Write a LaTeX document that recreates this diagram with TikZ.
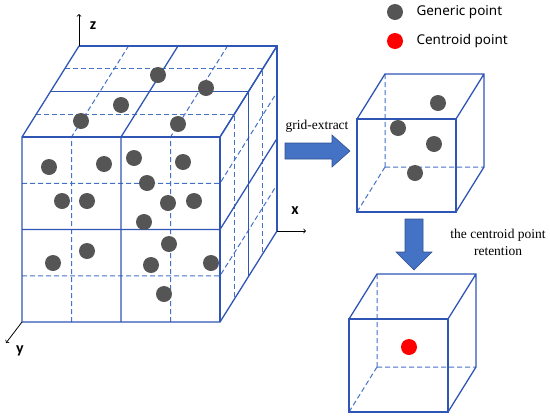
\documentclass[tikz,border=0pt]{standalone}
\usepackage{fontspec}
\setmainfont{Liberation Serif}
\setsansfont{Noto Sans}
\newfontfamily\axisfont{Carlito}
\definecolor{edgeblue}{RGB}{47,85,181}
\definecolor{dashblue}{RGB}{68,114,196}
\definecolor{arrowblue}{RGB}{68,114,196}
\definecolor{arrowrim}{RGB}{47,82,143}
\definecolor{ptgray}{RGB}{85,85,85}
\tikzset{cubeedge/.style={edgeblue,line width=1.3pt},
 cubedash/.style={dashblue,line width=1pt,dash pattern=on 5pt off 3pt},
 ptdot/.style={fill=ptgray}, cdot/.style={fill=red},
 bigarrow/.style={fill=arrowblue,draw=arrowrim,line width=0.6pt},
 axisarrow/.style={black,line width=0.8pt,->},
 axislabel/.style={font=\axisfont\bfseries\fontsize{16}{16}\selectfont},
 steplabel/.style={font=\fontsize{13.5}{17}\selectfont,align=center},
 legendlabel/.style={font=\sffamily\fontsize{13.5}{16}\selectfont,anchor=west}}

\begin{document}
\begin{tikzpicture}[x=1pt,y=-1pt]
 \useasboundingbox (0,0) rectangle (550,416);
 % one voxel, unit cube with hidden edges dashed
 \def\voxel{
  \draw[cubedash] (0,0,1) -- (1,0,1) (0,0,1) -- (0,1,1) (0,0,1) -- (0,0,0);
  \draw[cubeedge] (0,0,0) rectangle (1,1,0);
  \draw[cubeedge] (0,1,0) -- (0,1,1) -- (1,1,1) -- (1,0,1) -- (1,0,0) (1,1,1) -- (1,1,0);
 }
 % point cloud block, 2x2x2
 \begin{scope}[shift={(22,322)},x={(99pt,0pt)},y={(0pt,92.5pt)},z={(28.5pt,45.5pt)}]
  \foreach \t in {0.5,1.5} {
   \draw[cubedash] (\t,0,0) -- (\t,2,0) -- (\t,2,2);
   \draw[cubedash] (0,\t,0) -- (2,\t,0) -- (2,\t,2);
   \draw[cubedash] (0,2,\t) -- (2,2,\t) -- (2,0,\t);
  }
  \foreach \t in {0,1,2} {
   \draw[cubeedge] (\t,0,0) -- (\t,2,0) -- (\t,2,2);
   \draw[cubeedge] (0,\t,0) -- (2,\t,0) -- (2,\t,2);
   \draw[cubeedge] (0,2,\t) -- (2,2,\t) -- (2,0,\t);
  }
  \coordinate (yorig) at (0,0,0);
  \coordinate (zorig) at (0,2,2);
  \coordinate (xorig) at (2,0,2);
 \end{scope}
 \foreach \x/\y in {158/75,206/88,121/105,81/121,178/124,49/167,104/164,134/158,183/162,147/183,
  62/201,87/201,168/203,194/201,144/222,87/251,53/263,169/244,151/265,211/263,164/294}
  \fill[ptdot] (\x,\y) circle (8);
 % axes
 \coordinate (zend) at (79,14);
 \coordinate (xend) at (306,231);
 \coordinate (yend) at (6,343);
 \draw[axisarrow] (zorig) -- (zend);
 \draw[axisarrow] (xorig) -- (xend);
 \draw[axisarrow] (yorig) -- (yend);
 \node[axislabel] (zlab) at (93,26) {z};
 \node[axislabel] (xlab) at (295,211) {x};
 \node[axislabel] (ylab) at (20,351) {y};
 % extracted voxel
 \begin{scope}[shift={(357,212)},x={(99pt,0pt)},y={(0pt,93pt)},z={(28pt,45pt)}]
  \voxel
 \end{scope}
 \foreach \x/\y in {438/103,398/128,434/144,415/173}
  \fill[ptdot] (\x,\y) circle (8);
 % voxel after centroid retention
 \begin{scope}[shift={(349,412)},x={(99pt,0pt)},y={(0pt,93pt)},z={(28pt,45pt)}]
  \voxel
 \end{scope}
 \fill[cdot] (409,347) circle (8);
 % step arrows
 \draw[bigarrow] (285,143) -- (332,143) -- (332,135) -- (350,151) -- (332,167) -- (332,159) -- (285,159) -- cycle;
 \node[steplabel] (extract) at (317,126) {grid-extract};
 \draw[bigarrow] (405,219) -- (423,219) -- (423,252) -- (432,252) -- (414,270) -- (396,252) -- (405,252) -- cycle;
 \node[steplabel] (retain) at (498,242) {the centroid point\\retention};
 % legend
 \fill[ptdot] (395,12) circle (8);
 \node[legendlabel] (genlab) at (413,12) {Generic point};
 \fill[cdot] (395,41) circle (8);
 \node[legendlabel] (cenlab) at (413,41) {Centroid point};
\end{tikzpicture}
\end{document}
